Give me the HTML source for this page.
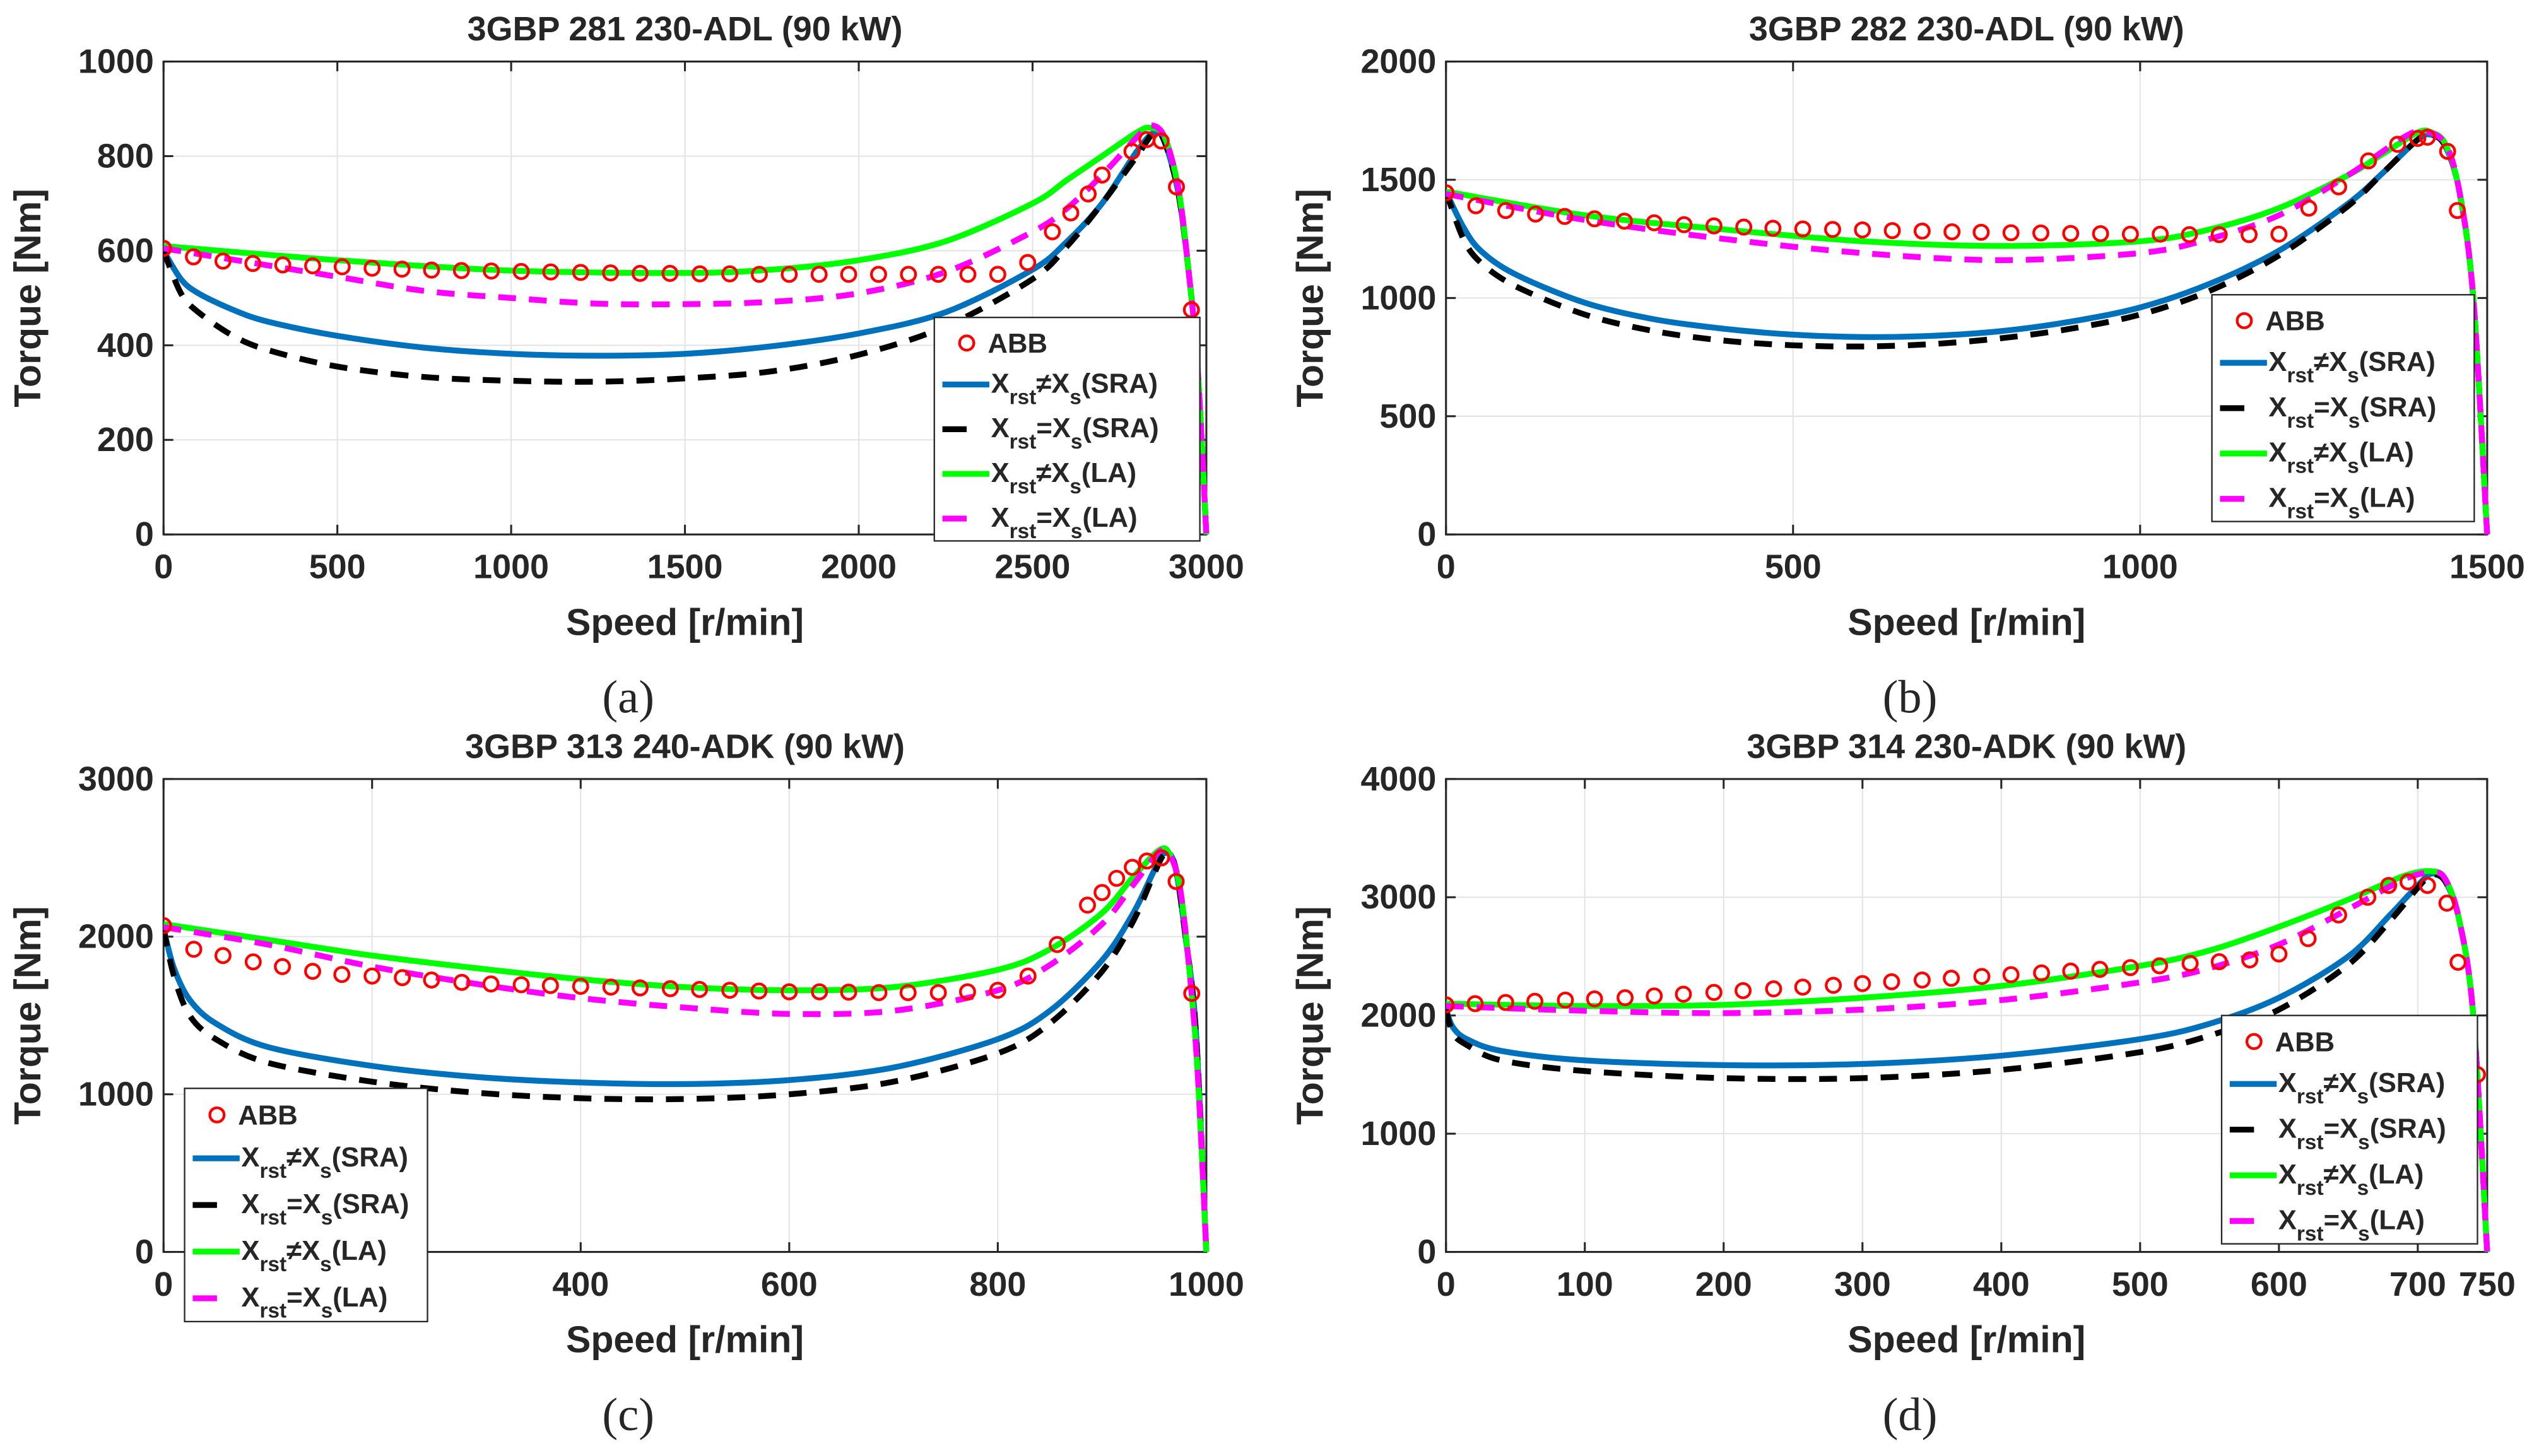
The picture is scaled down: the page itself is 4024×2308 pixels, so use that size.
<!DOCTYPE html>
<html><head><meta charset="utf-8"><style>
html,body{margin:0;padding:0;background:#fff;}
svg{display:block;}
text{font-family:"Liberation Sans",Arial,sans-serif;font-weight:bold;fill:#262626;}
</style></head><body>
<svg id="fig" xmlns="http://www.w3.org/2000/svg" width="4024" height="2308" viewBox="0 0 1568 899" preserveAspectRatio="none"></svg>
<script>
// ===== Panel (a) data =====
const aBlueX=[0,50,100,200,300,500,750,1000,1250,1500,1750,2000,2250,2500,2600,2700,2800,2850,2880,2920,2950,2975,3000];
const aBlueY=[600,540,510,475,450,420,395,382,378,382,398,425,470,560,620,700,810,850,830,720,550,350,0];
const aBlackX=[0,50,100,200,300,500,750,1000,1250,1500,1750,2000,2250,2500,2600,2700,2800,2850,2880,2920,2950,2975,3000];
const aBlackY=[600,510,470,420,390,355,333,325,323,330,345,380,440,540,610,700,800,850,830,720,550,350,0];
const aGreenX=[0,500,1000,1500,1750,2000,2250,2500,2600,2700,2800,2840,2880,2920,2950,2975,3000];
const aGreenY=[610,580,558,553,560,580,620,700,750,800,850,860,840,730,550,350,0];
const aMagX=[0,250,500,750,1000,1250,1500,1750,2000,2250,2500,2600,2700,2800,2840,2880,2920,2950,2975,3000];
const aMagY=[605,575,545,515,500,488,487,492,510,555,640,690,760,840,865,840,730,550,350,0];
const aAbbX=[0,86,171,257,343,429,514,600,686,771,857,943,1029,1114,1200,1286,1371,1457,1543,1629,1714,1800,1886,1971,2057,2143,2229,2314,2400,2486,2557,2610,2660,2700,2786,2829,2870,2914,2957];
const aAbbY=[605,587,578,573,570,568,566,563,561,559,558,557,556,555,554,553,552,552,551,551,550,550,550,550,550,550,550,550,550,575,640,680,720,760,810,835,832,735,475];
// ===== Panel (b) data =====
const bBlueX=[0,25,50,100,200,300,400,500,600,700,800,900,1000,1100,1200,1300,1350,1400,1420,1440,1460,1480,1500];
const bBlueY=[1450,1300,1200,1100,980,910,870,845,835,840,860,900,960,1060,1200,1400,1530,1670,1690,1640,1450,1000,0];
const bBlackX=[0,25,50,100,200,300,400,500,600,700,800,900,1000,1100,1200,1300,1350,1400,1420,1440,1460,1480,1500];
const bBlackY=[1450,1250,1150,1050,930,860,820,800,795,805,830,870,930,1030,1180,1390,1530,1670,1690,1640,1450,1000,0];
const bGreenX=[0,200,400,600,800,1000,1100,1200,1300,1350,1400,1420,1440,1460,1480,1500];
const bGreenY=[1450,1350,1290,1240,1220,1240,1290,1380,1520,1610,1700,1700,1650,1450,1000,0];
const bMagX=[0,200,400,600,800,1000,1100,1200,1300,1380,1410,1440,1460,1480,1500];
const bMagY=[1440,1330,1250,1190,1160,1190,1250,1350,1520,1680,1705,1650,1450,1000,0];
const bAbbX=[0,43,86,129,171,214,257,300,343,386,429,471,514,557,600,643,686,729,771,814,857,900,943,986,1029,1071,1114,1157,1200,1243,1286,1329,1371,1400,1414,1443,1457,1471];
const bAbbY=[1445,1390,1370,1355,1345,1335,1325,1318,1310,1305,1300,1295,1292,1290,1288,1285,1283,1280,1278,1276,1275,1273,1272,1270,1270,1268,1268,1268,1270,1380,1470,1580,1650,1675,1680,1620,1370,840];
// ===== Panel (c) data =====
const cBlueX=[0,10,25,50,100,200,300,400,500,600,700,800,850,900,930,950,960,970,980,990,1000];
const cBlueY=[2050,1800,1600,1450,1300,1180,1110,1075,1065,1090,1170,1350,1530,1850,2150,2420,2530,2450,2000,1400,0];
const cBlackX=[0,10,25,50,100,200,300,400,500,600,700,800,850,900,930,950,960,970,980,990,1000];
const cBlackY=[2050,1750,1500,1350,1200,1080,1010,975,970,1000,1080,1260,1450,1780,2100,2400,2520,2450,2000,1400,0];
const cGreenX=[0,100,200,300,400,500,600,700,800,850,900,930,955,965,975,985,992,1000];
const cGreenY=[2080,1980,1880,1800,1730,1680,1660,1680,1790,1920,2150,2380,2550,2520,2300,1700,1100,0];
const cMagX=[0,100,200,300,400,500,600,700,800,850,900,930,955,965,975,985,992,1000];
const cMagY=[2060,1950,1810,1700,1610,1550,1510,1530,1660,1820,2080,2330,2540,2520,2300,1700,1100,0];
const cAbbX=[0,29,57,86,114,143,171,200,229,257,286,314,343,371,400,429,457,486,514,543,571,600,629,657,686,714,743,771,800,829,857,886,900,914,929,943,957,971,986];
const cAbbY=[2070,1920,1880,1840,1810,1780,1760,1750,1740,1725,1710,1700,1695,1690,1685,1680,1675,1670,1665,1660,1655,1650,1650,1648,1645,1645,1645,1650,1660,1750,1950,2200,2280,2370,2440,2480,2500,2350,1640];
// ===== Panel (d) data =====
const dBlueX=[0,5,15,40,100,200,300,400,500,550,600,650,680,700,710,720,730,740,750];
const dBlueY=[2050,1900,1800,1700,1620,1580,1590,1660,1800,1930,2150,2500,2850,3100,3200,3130,2800,2000,0];
const dBlackX=[0,5,15,40,100,200,300,400,500,550,600,650,680,700,710,720,730,740,750];
const dBlackY=[2050,1850,1750,1620,1530,1470,1470,1540,1690,1830,2050,2430,2800,3080,3190,3130,2800,2000,0];
const dGreenX=[0,100,200,300,400,500,550,600,650,690,710,720,730,740,750];
const dGreenY=[2100,2080,2090,2150,2250,2420,2550,2750,2980,3180,3220,3150,2800,2000,0];
const dMagX=[0,100,200,300,400,500,550,600,650,690,710,720,730,740,750];
const dMagY=[2080,2040,2020,2050,2130,2280,2400,2600,2900,3150,3210,3150,2800,2000,0];
const dAbbX=[0,21,43,64,86,107,129,150,171,193,214,236,257,279,300,321,343,364,386,407,429,450,471,493,514,536,557,579,600,621,643,664,679,693,707,721,729,743];
const dAbbY=[2090,2100,2110,2120,2130,2140,2150,2165,2180,2195,2210,2225,2240,2255,2270,2285,2300,2315,2330,2345,2360,2375,2390,2405,2420,2440,2455,2470,2520,2650,2850,3000,3100,3130,3100,2950,2450,1500];
// ===== Axis ticks =====
const aXTicks=[0,500,1000,1500,2000,2500,3000], aYTicks=[0,200,400,600,800,1000];
const bXTicks=[0,500,1000,1500], bYTicks=[0,500,1000,1500,2000];
const cXTicks=[0,200,400,600,800,1000], cYTicks=[0,1000,2000,3000];
const dXTicks=[0,100,200,300,400,500,600,700,750], dYTicks=[0,1000,2000,3000,4000];
const titles=["3GBP 281 230-ADL (90 kW)","3GBP 282 230-ADL (90 kW)","3GBP 313 240-ADK (90 kW)","3GBP 314 230-ADK (90 kW)"];

const NS="http://www.w3.org/2000/svg";
const svg=document.getElementById('fig');
function mk(tag,parent,attrs){const e=document.createElementNS(NS,tag);for(const k in attrs)e.setAttribute(k,attrs[k]);parent.appendChild(e);return e;}
function smoothPath(P){
 let d='M'+P[0][0].toFixed(2)+','+P[0][1].toFixed(2);
 for(let i=0;i<P.length-1;i++){
  const p0=P[i-1]||P[i],p1=P[i],p2=P[i+1],p3=P[i+2]||P[i+1];
  const t=0.16;
  const c1=[p1[0]+(p2[0]-p0[0])*t,p1[1]+(p2[1]-p0[1])*t];
  const c2=[p2[0]-(p3[0]-p1[0])*t,p2[1]-(p3[1]-p1[1])*t];
  d+=' C'+c1[0].toFixed(2)+','+c1[1].toFixed(2)+' '+c2[0].toFixed(2)+','+c2[1].toFixed(2)+' '+p2[0].toFixed(2)+','+p2[1].toFixed(2);
 }
 return d;
}

const panels=[
 {id:'a',L:101,R:745,T:38,B:330,xmax:3000,ymax:1000,xt:aXTicks,yt:aYTicks,leg:[577,196,164,138],hideX:[],
  s:[[aBlueX,aBlueY],[aBlackX,aBlackY],[aGreenX,aGreenY],[aMagX,aMagY]],abb:[aAbbX,aAbbY]},
 {id:'b',L:893,R:1536,T:38,B:330,xmax:1500,ymax:2000,xt:bXTicks,yt:bYTicks,leg:[1366,182,162,140],hideX:[],
  s:[[bBlueX,bBlueY],[bBlackX,bBlackY],[bGreenX,bGreenY],[bMagX,bMagY]],abb:[bAbbX,bAbbY]},
 {id:'c',L:101,R:745,T:481,B:773,xmax:1000,ymax:3000,xt:cXTicks,yt:cYTicks,leg:[114,672,150,144],hideX:[200],
  s:[[cBlueX,cBlueY],[cBlackX,cBlackY],[cGreenX,cGreenY],[cMagX,cMagY]],abb:[cAbbX,cAbbY]},
 {id:'d',L:893,R:1536,T:481,B:773,xmax:750,ymax:4000,xt:dXTicks,yt:dYTicks,leg:[1372,627,158,141],hideX:[],
  s:[[dBlueX,dBlueY],[dBlackX,dBlackY],[dGreenX,dGreenY],[dMagX,dMagY]],abb:[dAbbX,dAbbY]}
];
const styles=[
 {stroke:'#0072BD',dash:null,name:'curve-xrst-neq-xs-sra'},
 {stroke:'#000000',dash:'11 8',name:'curve-xrst-eq-xs-sra'},
 {stroke:'#00FF00',dash:null,name:'curve-xrst-neq-xs-la'},
 {stroke:'#FF00FF',dash:'11 8',name:'curve-xrst-eq-xs-la'}
];
const legLabels=[['≠','(SRA)'],['=','(SRA)'],['≠','(LA)'],['=','(LA)']];

panels.forEach((p,pi)=>{
 const g=mk('g',svg,{});
 
 
 const sx=v=>p.L+(v/p.xmax)*(p.R-p.L);
 const sy=v=>p.B-(v/p.ymax)*(p.B-p.T);
 const cx=(p.L+p.R)/2;
 p.xt.forEach(t=>{const l=mk('line',g,{x1:sx(t),x2:sx(t),y1:p.T,y2:p.B,stroke:'#e3e3e3','stroke-width':0.8});
  });
 p.yt.forEach(t=>{const l=mk('line',g,{x1:p.L,x2:p.R,y1:sy(t),y2:sy(t),stroke:'#e3e3e3','stroke-width':0.8});
  });
 const box=mk('rect',g,{x:p.L,y:p.T,width:p.R-p.L,height:p.B-p.T,fill:'none',stroke:'#262626','stroke-width':1.2});
 
 p.xt.forEach(t=>{
  mk('line',g,{x1:sx(t),x2:sx(t),y1:p.B,y2:p.B-6,stroke:'#262626','stroke-width':1.2});
  mk('line',g,{x1:sx(t),x2:sx(t),y1:p.T,y2:p.T+6,stroke:'#262626','stroke-width':1.2});
  if(p.hideX.indexOf(t)>=0)return;
  const tx=mk('text',g,{x:sx(t),y:p.B+27,'text-anchor':'middle','font-size':21});tx.textContent=t;
  
 });
 p.yt.forEach(t=>{
  mk('line',g,{x1:p.L,x2:p.L+6,y1:sy(t),y2:sy(t),stroke:'#262626','stroke-width':1.2});
  mk('line',g,{x1:p.R,x2:p.R-6,y1:sy(t),y2:sy(t),stroke:'#262626','stroke-width':1.2});
  const tx=mk('text',g,{x:p.L-6,y:sy(t)+7,'text-anchor':'end','font-size':21});tx.textContent=t;
  
 });
 const ti=mk('text',g,{x:cx,y:p.T-13,'text-anchor':'middle','font-size':21,fill:'#000'});ti.textContent=titles[pi];
 
 const xl=mk('text',g,{x:cx,y:p.B+62,'text-anchor':'middle','font-size':23});xl.textContent='Speed [r/min]';
 
 const yx=p.L-76,yy=(p.T+p.B)/2;
 const yl=mk('text',g,{x:yx,y:yy,'text-anchor':'middle','font-size':23,transform:`rotate(-90 ${yx} ${yy})`});yl.textContent='Torque [Nm]';
 
 const cap=mk('text',g,{x:cx-35,y:p.B+110,'text-anchor':'middle','font-size':29,style:'font-family:"Liberation Serif",serif;font-weight:normal',fill:'#000'});cap.textContent='('+p.id+')';
 
 const clip=mk('clipPath',g,{id:'clip'+p.id});mk('rect',clip,{x:p.L,y:p.T-20,width:p.R-p.L+3,height:p.B-p.T+20});
 const sg=mk('g',g,{'clip-path':`url(#clip${p.id})`});
 const [ax,ay]=p.abb;
 p.s.forEach((s,si)=>{
  const P=s[0].map((v,i)=>[sx(v),sy(s[1][i])]);
  const a={d:smoothPath(P),fill:'none',stroke:styles[si].stroke,'stroke-width':3.6,'stroke-linejoin':'round'};
  if(styles[si].dash)a['stroke-dasharray']=styles[si].dash;
  const pl=mk('path',sg,a);
  
 });
 ax.forEach((v,i)=>{const c=mk('circle',sg,{cx:sx(v),cy:sy(ay[i]),r:4.4,fill:'none',stroke:'#FF0000','stroke-width':1.7});
  });
 const [lx,ly,lw,lh]=p.leg;
 const lg=mk('g',g,{});
 
 mk('rect',lg,{x:lx,y:ly,width:lw,height:lh,fill:'#fff',stroke:'#262626','stroke-width':0.9});
 const rh=lh/5;
 const r0=lg.appendChild(document.createElementNS(NS,'g'));
 
 mk('circle',r0,{cx:lx+20,cy:ly+rh*0.5+2,r:4.4,fill:'none',stroke:'#FF0000','stroke-width':1.7});
 const at=mk('text',r0,{x:lx+33,y:ly+rh*0.5+8,'font-size':17,fill:'#000'});at.textContent='ABB';
 styles.forEach((st,si)=>{
  const e=lg.appendChild(document.createElementNS(NS,'g'));
  
  
  const yc=ly+rh*(si+1.5);
  mk('line',e,{x1:lx+5,x2:st.dash?lx+20:lx+34,y1:yc,y2:yc,stroke:st.stroke,'stroke-width':3.6});
  const t=mk('text',e,{x:lx+35,y:yc+5,'font-size':17,fill:'#000'});
  const t1=mk('tspan',t,{});t1.textContent='X';
  const t2=mk('tspan',t,{dy:7,'font-size':13});t2.textContent='rst';
  const t3=mk('tspan',t,{dy:-7});t3.textContent=legLabels[si][0]+'X';
  const t4=mk('tspan',t,{dy:7,'font-size':13});t4.textContent='s';
  const t5=mk('tspan',t,{dy:-7});t5.textContent=legLabels[si][1];
 });
});
</script>
</body></html>
